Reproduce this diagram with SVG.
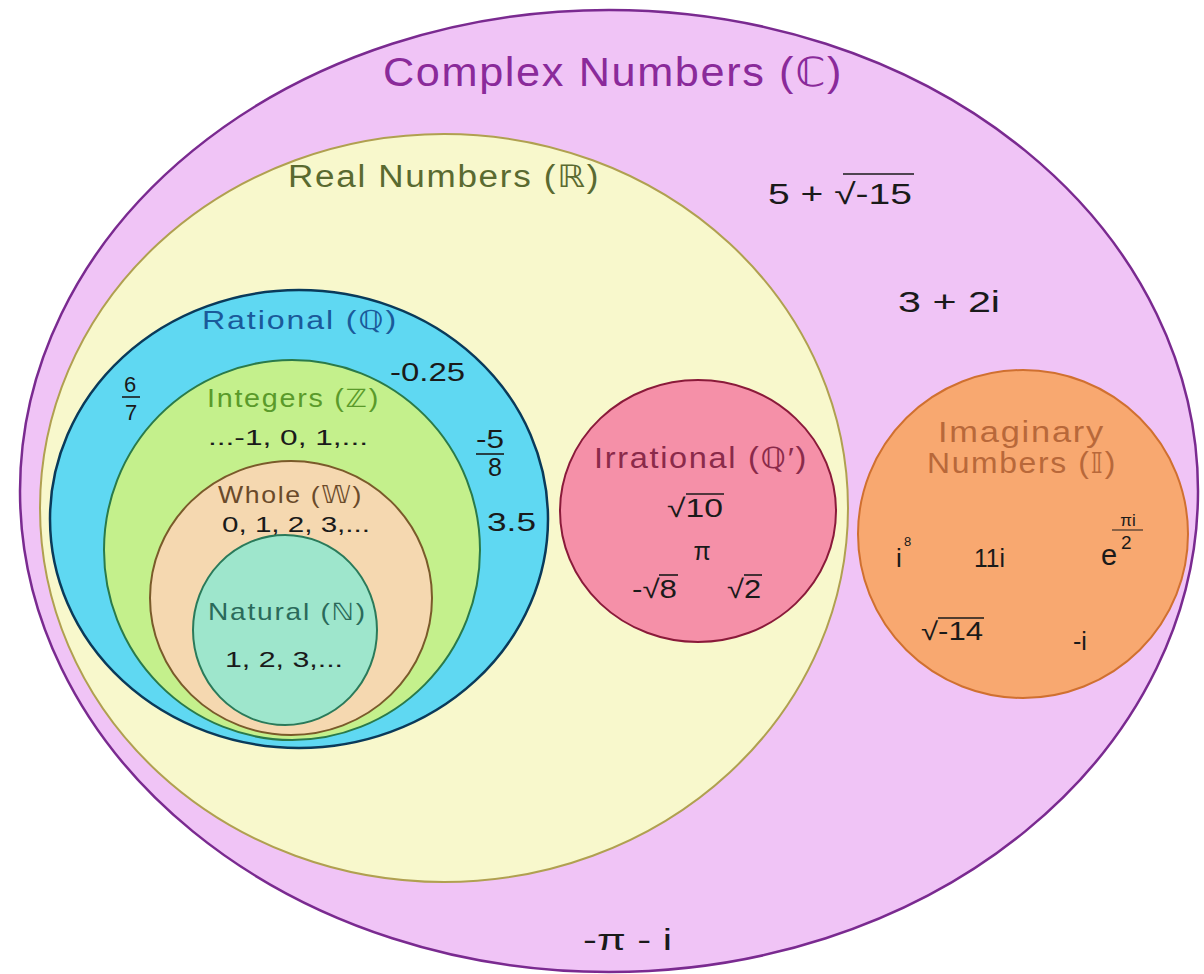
<svg xmlns="http://www.w3.org/2000/svg" width="1204" height="974" viewBox="0 0 1204 974">
<style>
text{font-family:"Liberation Sans","DejaVu Sans",sans-serif;}
.lb{letter-spacing:1.5px;}
.v{fill:#1a1a1a;}
.ol{stroke:#1a1a1a;stroke-width:1.6;}
</style>
<rect width="1204" height="974" fill="#ffffff"/>
<g id="complex">
<ellipse cx="609" cy="491" rx="589" ry="481" fill="#f0c4f6" stroke="#7a2a90" stroke-width="2.5"/>
<text x="383" y="86" textLength="460" lengthAdjust="spacingAndGlyphs" class="lb" font-size="40" fill="#8a2a9a">Complex Numbers (ℂ)</text>
<text x="768" y="204" textLength="144" lengthAdjust="spacingAndGlyphs" class="v" font-size="29">5 + √-15</text>
<line x1="843" y1="174" x2="914" y2="174" class="ol"/>
<text x="898" y="312" textLength="102" lengthAdjust="spacingAndGlyphs" class="v" font-size="29">3 + 2i</text>
<text x="583" y="950" textLength="89" lengthAdjust="spacingAndGlyphs" class="v" font-size="29">-π - i</text>
</g>
<g id="real">
<ellipse cx="444" cy="508" rx="404" ry="374" fill="#f8f8cc" stroke="#b0a050" stroke-width="2"/>
<text x="288" y="187" textLength="312" lengthAdjust="spacingAndGlyphs" class="lb" font-size="31" fill="#5a6a30">Real Numbers (ℝ)</text>
</g>
<g id="rational">
<ellipse cx="299" cy="519" rx="249" ry="229" fill="#5fd8f2" stroke="#0a3a5a" stroke-width="2.5"/>
<text x="202" y="329" textLength="196" lengthAdjust="spacingAndGlyphs" class="lb" font-size="26" fill="#1a5a9a">Rational (ℚ)</text>
<text x="390" y="381" textLength="75" lengthAdjust="spacingAndGlyphs" class="v" font-size="25">-0.25</text>
<text x="130" y="392" text-anchor="middle" class="v" font-size="22">6</text>
<line x1="122" y1="397" x2="140" y2="397" class="ol"/>
<text x="131" y="420" text-anchor="middle" class="v" font-size="22">7</text>
<text x="476" y="448" textLength="28" lengthAdjust="spacingAndGlyphs" class="v" font-size="25">-5</text>
<line x1="476" y1="454" x2="504" y2="454" class="ol"/>
<text x="495" y="476" text-anchor="middle" class="v" font-size="25">8</text>
<text x="487" y="531" textLength="49" lengthAdjust="spacingAndGlyphs" class="v" font-size="25">3.5</text>
</g>
<g id="integers">
<ellipse cx="292" cy="550" rx="188" ry="190" fill="#c4f08c" stroke="#2a7a4a" stroke-width="2"/>
<text x="207" y="407" textLength="173" lengthAdjust="spacingAndGlyphs" class="lb" font-size="25" fill="#5a9a2a">Integers (ℤ)</text>
<text x="208" y="445" textLength="160" lengthAdjust="spacingAndGlyphs" class="v" font-size="22">...-1, 0, 1,...</text>
</g>
<g id="whole">
<ellipse cx="291" cy="598" rx="141" ry="137" fill="#f5d8b0" stroke="#7a5a2a" stroke-width="2"/>
<text x="218" y="503" textLength="145" lengthAdjust="spacingAndGlyphs" class="lb" font-size="24" fill="#6a4a2a">Whole (𝕎)</text>
<text x="222" y="532" textLength="148" lengthAdjust="spacingAndGlyphs" class="v" font-size="22">0, 1, 2, 3,...</text>
</g>
<g id="natural">
<ellipse cx="285" cy="630" rx="92" ry="95" fill="#9ee6cc" stroke="#2a7a5a" stroke-width="2"/>
<text x="208" y="620" textLength="159" lengthAdjust="spacingAndGlyphs" class="lb" font-size="24" fill="#2a6a5a">Natural (ℕ)</text>
<text x="225" y="667" textLength="118" lengthAdjust="spacingAndGlyphs" class="v" font-size="22">1, 2, 3,...</text>
</g>
<g id="irrational">
<ellipse cx="698" cy="511" rx="138" ry="131" fill="#f590a8" stroke="#8a1a3a" stroke-width="2"/>
<text x="594" y="468" textLength="214" lengthAdjust="spacingAndGlyphs" class="lb" font-size="29" fill="#8a2a4a">Irrational (ℚ′)</text>
<text x="667" y="517" textLength="56" lengthAdjust="spacingAndGlyphs" class="v" font-size="26">√10</text>
<line x1="686" y1="494" x2="724" y2="494" class="ol"/>
<text x="702" y="560" text-anchor="middle" class="v" font-size="25">π</text>
<text x="632" y="598" textLength="45" lengthAdjust="spacingAndGlyphs" class="v" font-size="26">-√8</text>
<line x1="659" y1="575" x2="678" y2="575" class="ol"/>
<text x="727" y="598" textLength="34" lengthAdjust="spacingAndGlyphs" class="v" font-size="26">√2</text>
<line x1="744" y1="575" x2="762" y2="575" class="ol"/>
</g>
<g id="imaginary">
<ellipse cx="1023" cy="534" rx="165" ry="164" fill="#f8a870" stroke="#d07030" stroke-width="2"/>
<text x="938" y="442" textLength="167" lengthAdjust="spacingAndGlyphs" class="lb" font-size="29" fill="#b8683a">Imaginary</text>
<text x="927" y="473" textLength="190" lengthAdjust="spacingAndGlyphs" class="lb" font-size="29" fill="#b8683a">Numbers (𝕀)</text>
<text x="896" y="567" class="v" font-size="26">i</text>
<text x="904" y="546" class="v" font-size="13">8</text>
<text x="974" y="567" textLength="31" lengthAdjust="spacingAndGlyphs" class="v" font-size="25">11i</text>
<text x="1101" y="565" class="v" font-size="29">e</text>
<text x="1121" y="549" class="v" font-size="19">2</text>
<text x="1128" y="526" text-anchor="middle" class="v" font-size="17">πi</text>
<line x1="1112" y1="530" x2="1143" y2="530" stroke="#1a1a1a" stroke-width="1"/>
<text x="921" y="640" textLength="62" lengthAdjust="spacingAndGlyphs" class="v" font-size="25">√-14</text>
<line x1="938" y1="618" x2="984" y2="618" class="ol"/>
<text x="1073" y="650" class="v" font-size="25">-i</text>
</g>
</svg>
